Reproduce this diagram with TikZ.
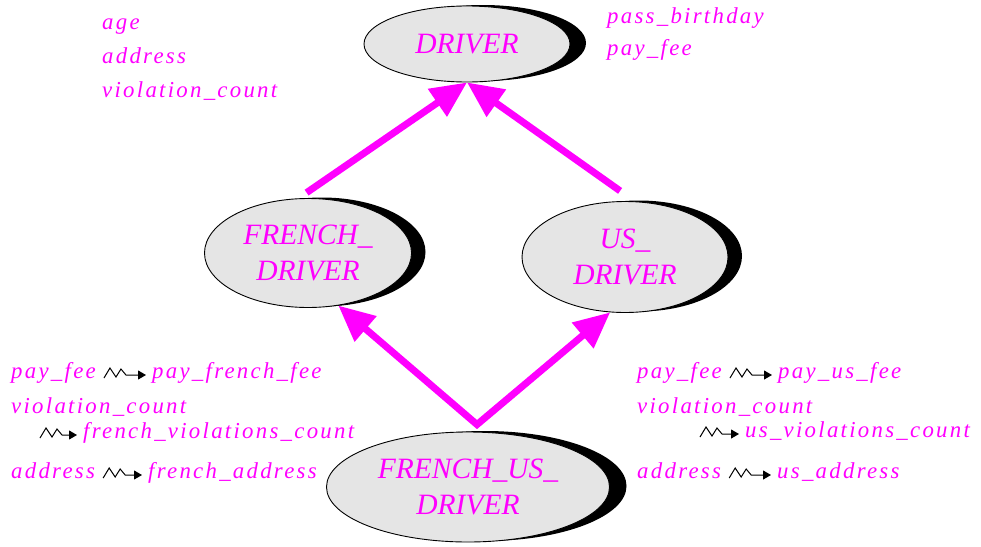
\documentclass[tikz,border=0pt]{standalone}
\usepackage{fontspec}
\setmainfont{Liberation Serif}
\usepackage{xcolor}
\usepackage{tikz}
\usetikzlibrary{arrows.meta,positioning,shapes.geometric,shadows}

\definecolor{mag}{RGB}{255,0,255}
\newfontfamily\attrfamily[LetterSpace=10]{Liberation Serif}
%% old name ~> new name
\newcommand{\renames}[2]{%
  \draw[ren] (#1) -- ++(6,-10) -- ++(6,9) -- ++(5,-8) -- ++(5,6)
    -- ([xshift=-6pt,yshift=3pt]#2.base west);}

\begin{document}
\begin{tikzpicture}[
  x=1pt,y=-1pt,
  cls/.style={ellipse,draw,line width=0.9pt,fill=black!10,inner sep=0pt,
              align=center,text=mag,
              font=\itshape\fontsize{29.5}{36}\selectfont,
              drop shadow={shadow xshift=#1,shadow yshift=1pt,
                           opacity=1,fill=black}},
  cls/.default=14pt,
  attr/.style={text=mag,inner sep=0pt,anchor=base west,
               font=\attrfamily\itshape\fontsize{22.8}{27}\selectfont},
  isa/.style={draw=mag,line width=7pt,
              -{Triangle[length=36pt,width=32pt]}},
  isatwo/.style={draw=mag,line width=7pt,
              {Triangle[length=36pt,width=32pt]}-{Triangle[length=36pt,width=32pt]}},
  ren/.style={draw=black,line width=1pt,
              -{Triangle[length=8pt,width=9pt]}}
]
\useasboundingbox (0,0) rectangle (981,546);

%% classes
\node[cls=16pt,minimum width=206pt,minimum height=76pt]  (drv) at (467,44)  {DRIVER};
\node[cls,minimum width=207pt,minimum height=109pt]      (fd)  at (308,253) {FRENCH\_\\DRIVER};
\node[cls,minimum width=206pt,minimum height=111pt]      (ud)  at (625,257) {US\_\\DRIVER};
\node[cls=17pt,minimum width=283pt,minimum height=110pt] (fud) at (468,487) {FRENCH\_US\_\\DRIVER};

%% features of DRIVER
\node[attr] (age)  at (102,29) {age};
\node[attr] (adr)  at (102,63) {address};
\node[attr] (vcnt) at (102,97) {violation\_count};
\node[attr] (pbd)  at (607,23) {pass\_birthday};
\node[attr] (pfee) at (607,55) {pay\_fee};

%% renamings, French side
\node[attr] (pfl)  at (11,378)  {pay\_fee};
\node[attr] (pffl) at (152,378) {pay\_french\_fee};
\node[attr] (vcl)  at (11,413)  {violation\_count};
\coordinate (fvs)  at (40,438);
\node[attr] (fvc)  at (83,438)  {french\_violations\_count};
\node[attr] (adl)  at (11,478)  {address};
\node[attr] (fad)  at (148,478) {french\_address};

%% renamings, US side
\node[attr] (pfr)  at (637,378) {pay\_fee};
\node[attr] (puf)  at (778,378) {pay\_us\_fee};
\node[attr] (vcr)  at (637,413) {violation\_count};
\coordinate (uvs)  at (700,437);
\node[attr] (uvc)  at (745,437) {us\_violations\_count};
\node[attr] (adr2) at (637,478) {address};
\node[attr] (uad)  at (777,478) {us\_address};

\renames{[xshift=8pt]pfl.base east}{pffl}
\renames{fvs}{fvc}
\renames{[xshift=8pt]adl.base east}{fad}
\renames{[xshift=8pt]pfr.base east}{puf}
\renames{uvs}{uvc}
\renames{[xshift=8pt]adr2.base east}{uad}

%% inheritance
\draw[isa,shorten <=10pt] (fd.100) -- (drv.south);
\draw[isa,shorten <=18pt] (ud.80) -- (drv.south);
\coordinate (fork) at ([xshift=9pt,yshift=7pt]fud.north);
\draw[isatwo] (fd.-60) -- (fork) -- (ud.-105);

\end{tikzpicture}
\end{document}
